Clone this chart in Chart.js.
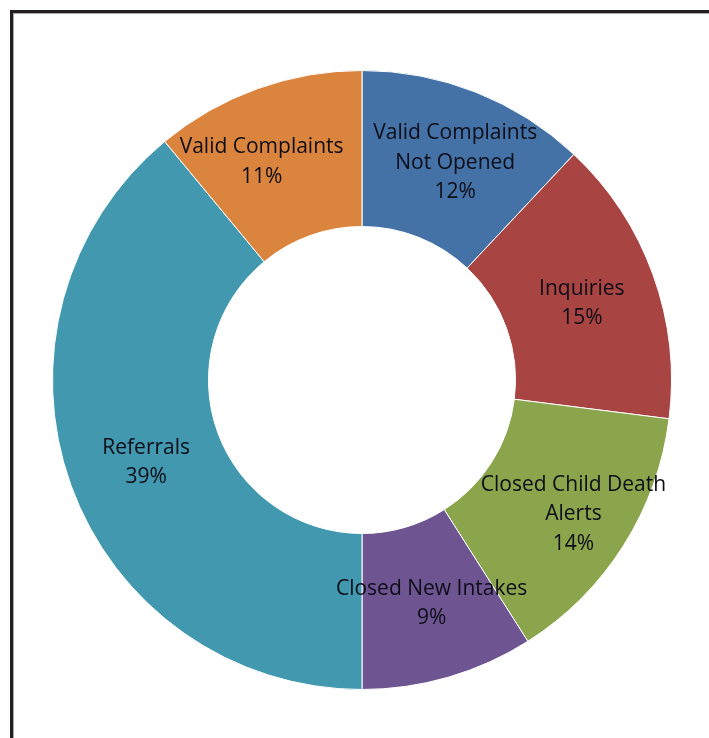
<!DOCTYPE html>
<html>
<head>
<meta charset="utf-8">
<script src="https://cdn.jsdelivr.net/npm/chart.js@4/dist/chart.umd.min.js"></script>
<style>
  html, body { margin: 0; padding: 0; background: #fff; }
  #wrap { position: relative; width: 709px; height: 738px; overflow: hidden; }
  #frame {
    position: absolute; left: 10px; top: 10px; width: 760px; height: 800px;
    border-left: 3px solid #231f20; border-top: 3px solid #231f20;
    box-shadow: inset 1px 1px 0 #aaa;
  }
  canvas { position: absolute; left: 0; top: 0; }
</style>
</head>
<body>
<div id="wrap">
  <div id="frame"></div>
  <canvas id="chart" width="709" height="738"></canvas>
</div>
<script>
const labels = [
  ['Valid Complaints', 'Not Opened'],
  ['Inquiries'],
  ['Closed Child Death', 'Alerts'],
  ['Closed New Intakes'],
  ['Referrals'],
  ['Valid Complaints']
];
const shares = [12, 15, 14, 9, 39, 11];
const colors = ['#4472a6', '#a84441', '#8aa54c', '#6e5592', '#4298ae', '#db843d'];

// nudges for label placement (Excel best fit)
const labelNudge = [[8, -2], [2, 2], [16, 10], [5, 1], [2, 4], [-22, 0]];

const sliceLabels = {
  id: 'sliceLabels',
  afterDatasetsDraw(chart) {
    const ctx = chart.ctx;
    const meta = chart.getDatasetMeta(0);
    ctx.save();
    ctx.font = '21px "Open Sans", sans-serif';
    ctx.fillStyle = '#0d0d18';
    ctx.textAlign = 'center';
    ctx.textBaseline = 'middle';
    const lh = 29.5;
    meta.data.forEach((arc, i) => {
      const p = arc.getProps(['x', 'y', 'startAngle', 'endAngle', 'innerRadius', 'outerRadius']);
      const mid = (p.startAngle + p.endAngle) / 2;
      const r = (p.innerRadius + p.outerRadius) / 2;
      const cx = p.x + Math.cos(mid) * r + labelNudge[i][0];
      const cy = p.y + Math.sin(mid) * r + labelNudge[i][1];
      const lines = labels[i].concat([shares[i] + '%']);
      const y0 = cy - (lines.length - 1) * lh / 2;
      lines.forEach((t, j) => ctx.fillText(t, cx, y0 + j * lh));
    });
    ctx.restore();
  }
};

new Chart(document.getElementById('chart'), {
  type: 'doughnut',
  data: {
    labels: labels.map(l => l.join(' ')),
    datasets: [{
      data: shares,
      backgroundColor: colors,
      borderColor: '#ffffff',
      borderWidth: 1,
      hoverOffset: 0
    }]
  },
  options: {
    responsive: false,
    animation: false,
    cutout: '49.6%',
    layout: { padding: { left: 52, right: 37, top: 70, bottom: 48 } },
    plugins: {
      legend: { display: false },
      tooltip: { enabled: false }
    }
  },
  plugins: [sliceLabels]
});
</script>
</body>
</html>
